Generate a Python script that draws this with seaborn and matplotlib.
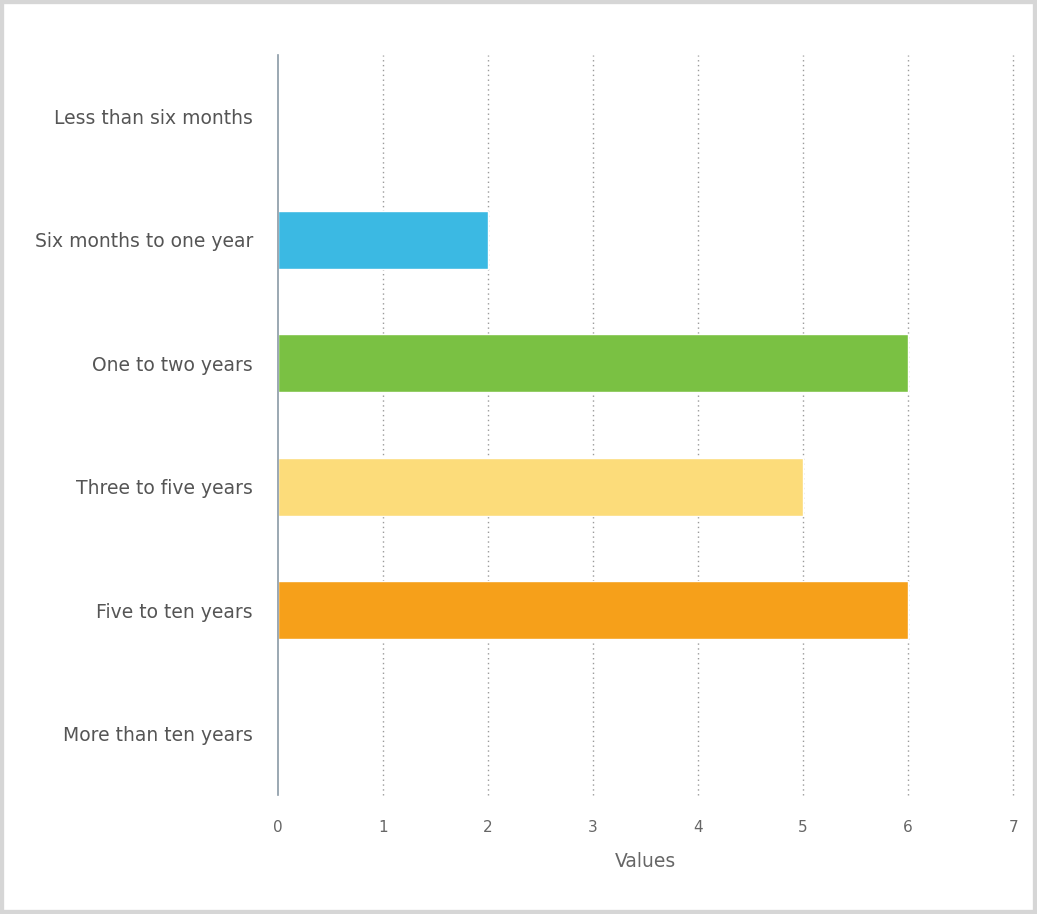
import matplotlib
matplotlib.use("Agg")
import matplotlib.pyplot as plt
import seaborn as sns
import pandas as pd
from matplotlib.patches import Rectangle

categories = ["Less than six months", "Six months to one year", "One to two years",
              "Three to five years", "Five to ten years", "More than ten years"]
values = [0, 2, 6, 5, 6, 0]
colors = ["#3BB9E3", "#3BB9E3", "#7AC143", "#FCDC7A", "#F6A01A", "#F6A01A"]
xticks = [0, 1, 2, 3, 4, 5, 6, 7]

sns.set_theme(style="white")
plt.rcParams['font.family'] = ['DejaVu Sans']

df = pd.DataFrame({"category": categories, "value": values})

fig = plt.figure(figsize=(10.37, 9.14), dpi=100)
fig.patch.set_facecolor("white")
ax = fig.add_axes([0.268, 0.130, 0.709, 0.810])

sns.barplot(data=df, x="value", y="category", hue="category", palette=colors,
            order=categories, hue_order=categories, legend=False,
            width=0.47, saturation=1, ax=ax, orient="h")

ax.set_xlim(0, 7)
ax.set_ylim(5.5, -0.5)
ax.set_xticks(xticks)
ax.set_xticklabels([str(t) for t in xticks], color="#666666", fontsize=11)
ax.tick_params(axis="y", labelsize=13.5, colors="#555555", length=0, pad=18)
ax.tick_params(axis="x", length=0, pad=18)
for t in xticks[1:]:
    ax.axvline(t, color="#9a9a9a", linestyle=(0, (1, 2.5)), linewidth=1, zorder=0,
               clip_on=False)
for s in ["top", "right", "bottom"]:
    ax.spines[s].set_visible(False)
ax.spines["left"].set_color("#8a9aa6")
ax.spines["left"].set_linewidth(1.2)
ax.set_ylabel("")
ax.set_xlabel("Values", fontsize=13.5, color="#666666", labelpad=12)

# light grey frame around the figure
fig.patches.append(Rectangle((0, 0), 1, 1, transform=fig.transFigure, fill=False,
                             edgecolor="#d6d6d6", linewidth=6, zorder=-1))

fig.savefig("out.png", dpi=100)
